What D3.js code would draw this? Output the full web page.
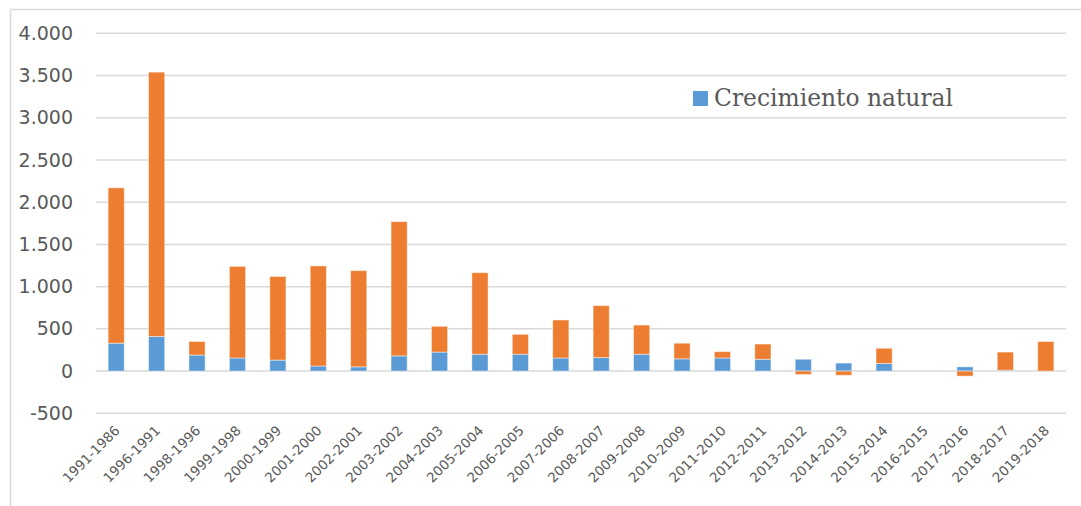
<!DOCTYPE html>
<html>
<head>
<meta charset="utf-8">
<script src="https://cdn.jsdelivr.net/npm/d3@7"></script>
<style>
  html, body { margin: 0; padding: 0; background: #fff; }
  svg { display: block; }
</style>
</head>
<body>
<svg id="chart" width="1081" height="506"></svg>
<script>
const categories = ["1991-1986","1996-1991","1998-1996","1999-1998","2000-1999","2001-2000","2002-2001","2003-2002","2004-2003","2005-2004","2006-2005","2007-2006","2008-2007","2009-2008","2010-2009","2011-2010","2012-2011","2013-2012","2014-2013","2015-2014","2016-2015","2017-2016","2018-2017","2019-2018"];
const crecimientoNatural = [330, 410, 190, 155, 130, 60, 50, 180, 225, 200, 200, 155, 160, 200, 145, 155, 140, 140, 95, 90, 0, 50, 10, 0];
const saldoMigratorio = [1840, 3130, 160, 1085, 990, 1185, 1140, 1590, 305, 965, 235, 450, 615, 345, 185, 75, 180, -40, -50, 180, 0, -60, 215, 350];
const yTicks = [-500, 0, 500, 1000, 1500, 2000, 2500, 3000, 3500, 4000];
const seriesNames = ["Crecimiento natural", "Saldo migratorio"];
const colors = ["#5B9BD5", "#ED7D31"];

const svg = d3.select("#chart");
const W = 1081, H = 506;

// frame
svg.append("path")
  .attr("d", `M10.5,${H} V9.5 H${W}`)
  .attr("fill", "none").attr("stroke", "#D9D9D9").attr("stroke-width", 1.5);

const x = d3.scaleBand().domain(categories).range([96, 1066]).paddingInner(0.6).paddingOuter(0.3);
const y = d3.scaleLinear().domain([-500, 4000]).range([413.3, 33.3]);

// gridlines
svg.append("g").selectAll("line").data(yTicks).join("line")
  .attr("x1", 96).attr("x2", 1066)
  .attr("y1", d => y(d)).attr("y2", d => y(d))
  .attr("stroke", "#D9D9D9").attr("stroke-width", 1.5);

// y axis labels
const fmt = d => d3.format(",")(d).replace(/,/g, ".").replace("\u2212", "-");
const yAxis = d3.axisLeft(y).tickValues(yTicks).tickFormat(fmt).tickSize(0).tickPadding(0);
const gy = svg.append("g").attr("transform", "translate(73,0)").call(yAxis);
gy.select(".domain").remove();
gy.selectAll("text")
  .attr("font-family", "DejaVu Sans, sans-serif")
  .attr("font-size", 19)
  .attr("fill", "#595959");

// stacked data (positive/negative handled separately)
const stackData = categories.map((c, i) => ({ cat: c, v: [crecimientoNatural[i], saldoMigratorio[i]] }));
const rects = [];
stackData.forEach(d => {
  let pos = 0, neg = 0;
  d.v.forEach((v, s) => {
    let y0, y1;
    if (v >= 0) { y0 = pos; y1 = pos + v; pos = y1; }
    else { y0 = neg + v; y1 = neg; neg = y0; }
    rects.push({ cat: d.cat, s, y0, y1 });
  });
});

svg.append("g").selectAll("rect").data(rects.filter(r => r.y1 !== r.y0)).join("rect")
  .attr("x", d => x(d.cat))
  .attr("width", x.bandwidth())
  .attr("y", d => y(d.y1))
  .attr("height", d => y(d.y0) - y(d.y1))
  .attr("fill", d => colors[d.s])
  .attr("stroke", "rgba(255,255,255,0.45)")
  .attr("stroke-width", 1);

// x labels
const xg = svg.append("g");
xg.selectAll("text").data(categories).join("text")
  .attr("transform", d => `translate(${x(d) + x.bandwidth() / 2 + 1},${428}) rotate(-45)`)
  .attr("text-anchor", "end")
  .attr("dy", "0.35em")
  .attr("font-family", "DejaVu Sans, sans-serif")
  .attr("font-size", 13.5)
  .attr("fill", "#595959")
  .text(d => d);

// legend
const lg = svg.append("g");
lg.append("rect").attr("x", 693).attr("y", 91).attr("width", 15).attr("height", 15).attr("fill", colors[0]);
lg.append("text").attr("x", 714).attr("y", 106)
  .attr("font-family", "DejaVu Serif, serif")
  .attr("font-size", 24)
  .attr("fill", "#595959")
  .attr("textLength", 239)
  .attr("lengthAdjust", "spacingAndGlyphs")
  .text(seriesNames[0]);
</script>
</body>
</html>
